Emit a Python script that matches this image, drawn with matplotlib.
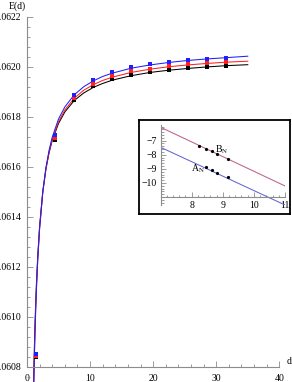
import matplotlib
matplotlib.use("Agg")
import matplotlib.pyplot as plt
from matplotlib.ticker import MultipleLocator, FormatStrFormatter

plt.rcParams['font.family'] = ['Liberation Serif', 'DejaVu Serif']
plt.rcParams['mathtext.fontset'] = 'stix'

# ---- main plot data ----
curve_d = [0.98, 1.1, 1.2, 1.3, 1.4, 1.5, 1.7, 2.0, 2.5, 3.0, 3.5, 4.0, 5.0, 6.0,
           7.5, 9.0, 10.5, 12.0, 13.5, 16.5, 19.5, 22.5, 25.5, 28.5, 31.5, 35.0]
curve_black = [0.060665, 0.060803, 0.060907, 0.060995, 0.061070, 0.061135, 0.061242,
               0.061363, 0.061500, 0.061591, 0.061656, 0.061705, 0.061773, 0.061819,
               0.061865, 0.061895, 0.061917, 0.061933, 0.061946, 0.061964, 0.061977,
               0.061986, 0.061993, 0.061999, 0.062004, 0.062008]
curve_red = [0.060630, 0.060775, 0.060882, 0.060973, 0.061051, 0.061118, 0.061229,
             0.061354, 0.061496, 0.061591, 0.061658, 0.061709, 0.061780, 0.061827,
             0.061874, 0.061906, 0.061928, 0.061945, 0.061958, 0.061977, 0.061990,
             0.062000, 0.062007, 0.062013, 0.062018, 0.062022]
curve_blue = [0.060610, 0.060757, 0.060868, 0.060961, 0.061041, 0.061111, 0.061225,
              0.061353, 0.061499, 0.061596, 0.061666, 0.061718, 0.061791, 0.061839,
              0.061888, 0.061920, 0.061943, 0.061961, 0.061974, 0.061994, 0.062007,
              0.062017, 0.062025, 0.062031, 0.062036, 0.062042]

pts_d = [1.5, 4.5, 7.5, 10.5, 13.5, 16.5, 19.5, 22.5, 25.5, 28.5, 31.5]
pts_black = [0.060839, 0.061708, 0.061865, 0.061922, 0.061949, 0.061968, 0.061980,
             0.061988, 0.061994, 0.062000, 0.062004]
pts_red = [0.060844, 0.061714, 0.061874, 0.061932, 0.061961, 0.061981, 0.061992,
           0.062001, 0.062009, 0.062014, 0.062018]
pts_blue = [0.060851, 0.061726, 0.061888, 0.061948, 0.061980, 0.061998, 0.062012,
            0.062020, 0.062028, 0.062032, 0.062036]

# ---- inset data ----
line_x = [7.0, 11.0]
line_B = [-6.05, -10.21]
line_A = [-7.47, -11.56]
B_x = [8.245, 8.45, 8.645, 8.825, 9.16]
B_y = [-7.38, -7.57, -7.75, -7.94, -8.28]
A_x = [8.45, 8.645, 8.825, 9.16]
A_y = [-8.89, -9.10, -9.27, -9.60]

AXC = '#8c8c8c'
W, H = 292, 382
fig = plt.figure(figsize=(W / 100, H / 100), dpi=100)

# main axes: x 0..40 -> px 27..279.3, y top 0.0622 at px 16.7
ax = fig.add_axes([27 / W, 0, (279.3 - 27) / W, (H - 16.7) / H])
ax.set_xlim(0, 40)
ax.set_ylim(0.0622 - (H - 16.7) * 0.000004, 0.0622)

ax.plot(curve_d, curve_black, color='black', lw=0.75)
ax.plot(curve_d, curve_red, color='#ff2020', lw=0.75)
ax.plot(curve_d, curve_blue, color='#2020ff', lw=0.75)
ax.plot(pts_d, pts_black, 's', color='black', ms=2.4, mew=0)
ax.plot(pts_d, pts_red, 's', color='#ff2020', ms=2.4, mew=0)
ax.plot(pts_d, pts_blue, 's', color='#2020ff', ms=2.4, mew=0)

for s in ['top', 'right']:
    ax.spines[s].set_visible(False)
ax.spines['bottom'].set_position(('data', 0.0608))
ax.spines['left'].set_bounds(0.0608, 0.0622)
for s in ['bottom', 'left']:
    ax.spines[s].set_color(AXC)
    ax.spines[s].set_linewidth(0.8)
ax.patch.set_visible(False)

ax.xaxis.set_major_locator(MultipleLocator(10))
ax.xaxis.set_minor_locator(MultipleLocator(2))
ax.yaxis.set_minor_locator(MultipleLocator(0.00004))
ax.yaxis.set_major_formatter(FormatStrFormatter('%.4f'))
ax.set_yticks([0.0608 + 0.0002 * i for i in range(8)])
ax.tick_params(which='both', direction='in', color=AXC, labelsize=7, width=0.6)
ax.tick_params(which='major', length=4, pad=4)
ax.tick_params(which='minor', length=2)
ax.tick_params(axis='x', pad=5)

fig.text(17.5 / W, 1 - 6 / H, 'E(d)', fontsize=7, ha='center', va='center')
fig.text(289 / W, 1 - 362 / H, 'd', fontsize=7, ha='center', va='center')

# inset frame
box = fig.add_axes([139 / W, 1 - 214 / H, 151 / W, 94 / H])
box.set_xticks([])
box.set_yticks([])
for s in box.spines.values():
    s.set_linewidth(1.3)
    s.set_color('black')
box.set_facecolor('white')

# inset plot: x 7..11 -> px 160.6..285, y -5.89..-11.56 -> px 125..205
ins = fig.add_axes([160.6 / W, 1 - 205 / H, (285 - 160.6) / W, 80 / H])
ins.set_xlim(7, 11)
ins.set_ylim(-11.56, -5.89)
ins.patch.set_visible(False)
ins.plot(line_x, line_B, color='#c0608c', lw=0.75)
ins.plot(line_x, line_A, color='#6464d2', lw=0.75)
ins.plot(B_x, B_y, 'o', color='black', ms=2.3, mew=0)
ins.plot(A_x, A_y, 'o', color='black', ms=2.3, mew=0)
ins.text(8.97, -7.61, r'B$_{\mathrm{N}}$', fontsize=7, ha='center', va='center')
ins.text(8.21, -8.96, r'A$_{\mathrm{N}}$', fontsize=7, ha='center', va='center')

for s in ['top', 'right']:
    ins.spines[s].set_visible(False)
ins.spines['bottom'].set_position(('data', -11))
for s in ['bottom', 'left']:
    ins.spines[s].set_color(AXC)
    ins.spines[s].set_linewidth(0.8)
ins.set_xticks([8, 9, 10, 11])
ins.set_yticks([-7, -8, -9, -10])
ins.xaxis.set_minor_locator(MultipleLocator(0.2))
ins.yaxis.set_minor_locator(MultipleLocator(0.2))
ins.set_yticklabels(['\u22127', '\u22128', '\u22129', '\u221210'])
ins.tick_params(which='both', direction='in', color=AXC, labelsize=7, width=0.6)
ins.tick_params(which='major', length=3.5, pad=3)
ins.tick_params(which='minor', length=1.8)

fig.savefig('out.png', dpi=100)
